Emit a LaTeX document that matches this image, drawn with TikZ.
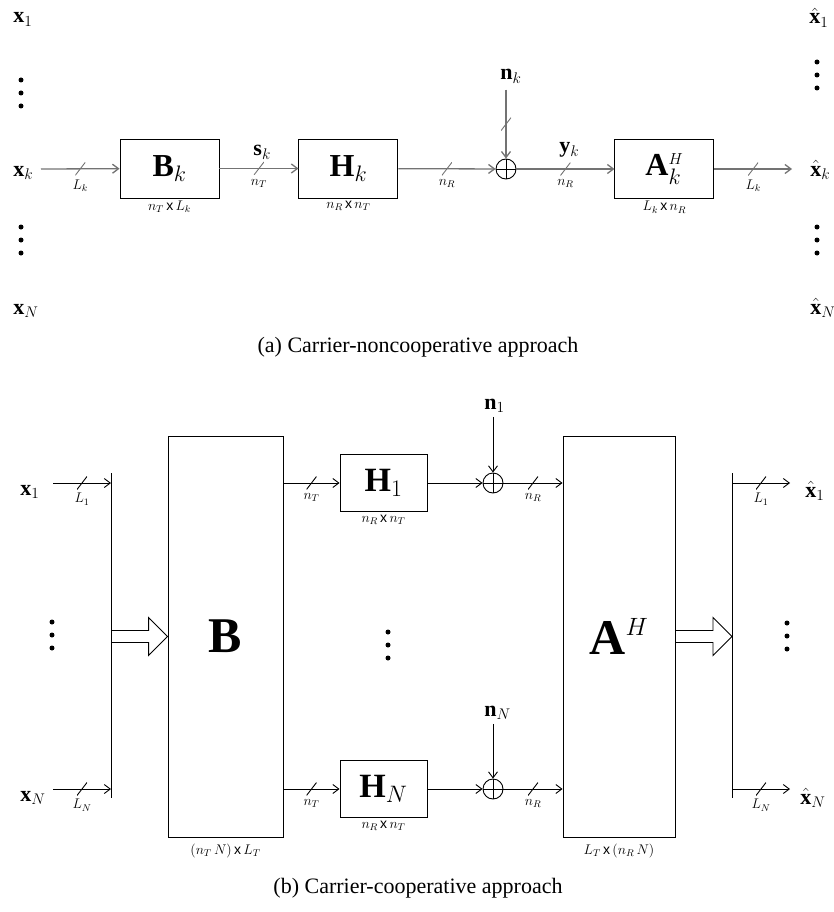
\documentclass[tikz,border=0pt]{standalone}
\usepackage{fix-cm}
\usepackage{amsmath,amssymb}
\usepackage{fontspec}
\setmainfont{Liberation Serif}
\newfontfamily\sizefont{Liberation Sans}
\usetikzlibrary{arrows.meta,positioning,calc}
\newcommand{\by}{\,{\sizefont x}\,}
\newcommand{\fatarr}[2]{\draw ($(#1)+(0,-6)$) -- ($(#2)+(-19,-6)$) -- ($(#2)+(-19,-19)$) -- (#2) -- ($(#2)+(-19,19)$) -- ($(#2)+(-19,6)$) -- ($(#1)+(0,6)$);}

\begin{document}
\begin{tikzpicture}[x=1pt,y=-1pt,line width=0.9pt,>={Straight Barb[length=6pt,width=9pt]},
  vec/.style={font=\fontsize{22}{24}\selectfont,inner sep=0pt,anchor=base west},
  lbl/.style={font=\fontsize{14}{15}\selectfont,inner sep=1pt},
  capt/.style={font=\fontsize{22}{24}\selectfont},
  blk/.style={draw,inner sep=0pt,font=\fontsize{32}{34}\selectfont},
  conn/.style={draw=black!55,line width=1.3pt},
  cut/.style={inner sep=0pt,minimum width=10pt,minimum height=13pt,
    path picture={\draw[-,line width=0.9pt] (path picture bounding box.south west) -- (path picture bounding box.north east);}},
  sum/.style={circle,draw,minimum size=20pt,inner sep=0pt,
    path picture={\draw[-] (path picture bounding box.north) -- (path picture bounding box.south) (path picture bounding box.west) -- (path picture bounding box.east);}},
  vdts/.pic={\foreach \d in {0,13,26} \fill (0,\d) circle (2.5pt);}]
\useasboundingbox (0,0) rectangle (834,912);

% (a) one carrier at a time
\node[vec] (x1) at (13,23) {$\mathbf{x}_1$};
\pic at (21,80) {vdts};
\node[vec] (xk) at (13,176) {$\mathbf{x}_k$};
\pic at (21,227) {vdts};
\node[vec] (xN) at (13,314) {$\mathbf{x}_N$};
\node[vec] (xh1) at (809,24) {$\hat{\mathbf{x}}_1$};
\pic at (817,62) {vdts};
\node[vec] (xhk) at (810,176) {$\hat{\mathbf{x}}_k$};
\pic at (817,227) {vdts};
\node[vec] (xhN) at (810,314) {$\hat{\mathbf{x}}_N$};

\node[blk,minimum width=99pt,minimum height=59pt,label={[lbl,label distance=1pt]below:$n_T$\by$L_k$}] (Bk) at (169.5,168.5) {$\mathbf{B}_k$};
\node[blk,minimum width=99pt,minimum height=59pt,right=79pt of Bk,label={[lbl,label distance=1pt]below:$n_R$\by$n_T$}] (Hk) {$\mathbf{H}_k$};
\node[sum] (plk) at (506,169) {};
\node[blk,minimum width=99pt,minimum height=59pt,right=98pt of plk,label={[lbl,label distance=1pt]below:$L_k$\by$n_R$}] (Ak) {$\mathbf{A}_k^{\scriptscriptstyle H}$};
\node[vec] (nk) at (500,80) {$\mathbf{n}_k$};
\node[vec] (sk) at (253,156) {$\mathbf{s}_k$};
\node[vec] (yk) at (559,153) {$\mathbf{y}_k$};
\coordinate (ink) at (41,169);
\coordinate (outk) at (792,169);

\draw[conn,->] (ink) -- node[cut,label={[lbl,label distance=2pt]below:$L_k$}]{} (Bk);
\draw[conn,->] (Bk) -- node[cut,label={[lbl,label distance=2pt]below:$n_T$}]{} (Hk);
\draw[conn,->] (Hk) -- node[cut,label={[lbl,label distance=2pt]below:$n_R$}]{} (plk);
\draw[conn,->] (plk) -- node[cut,label={[lbl,label distance=2pt]below:$n_R$}]{} (Ak);
\draw[conn,->] (Ak) -- node[cut,label={[lbl,label distance=2pt]below:$L_k$}]{} (outk);
\draw[conn,->] (plk |- nk.south) ++(0,6) -- node[cut]{} (plk);

\node[capt] (capa) at (418,347) {(a) Carrier-noncooperative approach};

% (b) all carriers jointly
\node[vec] (bx1) at (20,495) {$\mathbf{x}_1$};
\pic at (52,622) {vdts};
\node[vec] (bxN) at (20,801) {$\mathbf{x}_N$};
\node[vec] (bxh1) at (805,497) {$\hat{\mathbf{x}}_1$};
\pic at (787,623) {vdts};
\node[vec] (bxhN) at (800,804) {$\hat{\mathbf{x}}_N$};

\node[blk,minimum width=115pt,minimum height=401pt,font=\fontsize{50}{52}\selectfont,
  label={[lbl,label distance=5pt]below:$(n_T\,N)$\by$L_T$}] (B) at (225.5,636.5) {$\mathbf{B}$};
\node[blk,minimum width=112pt,minimum height=401pt,font=\fontsize{50}{52}\selectfont,
  label={[lbl,label distance=5pt]below:$L_T$\by$(n_R\,N)$}] (A) at (619,636.5) {$\mathbf{A}^{\scriptscriptstyle H}$};
\node[blk,minimum width=87pt,minimum height=57pt,font=\fontsize{34}{36}\selectfont,
  label={[lbl,label distance=2pt]below:$n_R$\by$n_T$}] (H1) at (383.5,483) {$\mathbf{H}_1$};
\node[blk,minimum width=87pt,minimum height=57pt,font=\fontsize{34}{36}\selectfont,
  label={[lbl,label distance=2pt]below:$n_R$\by$n_T$}] (HN) at (383.5,789) {$\mathbf{H}_N$};
\pic at (388,632) {vdts};
\node[sum] (pl1) at (493,483) {};
\node[sum] (plN) at (493,789) {};
\node[vec] (n1) at (484,409) {$\mathbf{n}_1$};
\node[vec] (nN) at (484,716) {$\mathbf{n}_N$};

\coordinate (busLt) at (111,473); \coordinate (busLb) at (111,798);
\coordinate (busRt) at (732,473); \coordinate (busRb) at (732,798);
\coordinate (busL1) at (111,483); \coordinate (busLN) at (111,789);
\coordinate (busR1) at (732,483); \coordinate (busRN) at (732,789);
\coordinate (busLm) at (111,636.5); \coordinate (busRm) at (732,636.5);
\coordinate (in1) at (53,483); \coordinate (inN) at (53,789);
\coordinate (out1) at (790,483); \coordinate (outN) at (790,789);

\draw (busLt) -- (busLb);
\draw (busRt) -- (busRb);
\draw[->] (in1) -- node[cut,label={[lbl,label distance=2pt]below:$L_1$}]{} (busL1);
\draw[->] (inN) -- node[cut,label={[lbl,label distance=2pt]below:$L_N$}]{} (busLN);
\draw[->] (B.east |- H1) -- node[cut,label={[lbl,label distance=2pt]below:$n_T$}]{} (H1);
\draw[->] (B.east |- HN) -- node[cut,label={[lbl,label distance=2pt]below:$n_T$}]{} (HN);
\draw[->] (H1) -- (pl1);
\draw[->] (HN) -- (plN);
\draw[->] (pl1 |- n1.south) ++(0,4) -- (pl1);
\draw[->] (plN |- nN.south) ++(0,4) -- (plN);
\draw[->] (pl1) -- node[cut,label={[lbl,label distance=2pt]below:$n_R$}]{} (A.west |- pl1);
\draw[->] (plN) -- node[cut,label={[lbl,label distance=2pt]below:$n_R$}]{} (A.west |- plN);
\draw[->] (busR1) -- node[cut,label={[lbl,label distance=2pt]below:$L_1$}]{} (out1);
\draw[->] (busRN) -- node[cut,label={[lbl,label distance=2pt]below:$L_N$}]{} (outN);
\fatarr{busLm}{B.west}
\fatarr{A.east}{busRm}

\node[capt] (capb) at (418,888) {(b) Carrier-cooperative approach};
\end{tikzpicture}
\end{document}
